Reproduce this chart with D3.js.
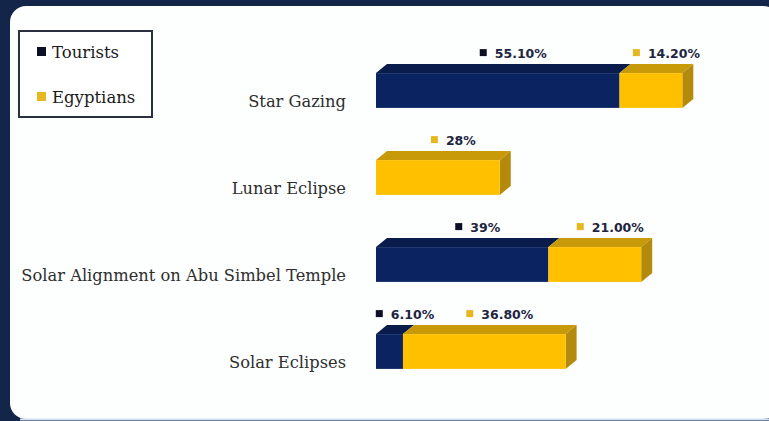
<!DOCTYPE html>
<html>
<head>
<meta charset="utf-8">
<script src="https://cdn.jsdelivr.net/npm/d3@7"></script>
<style>
  body { margin: 0; background: #fff; }
  svg { display: block; }
</style>
</head>
<body>
<svg id="chart" width="769" height="421"></svg>
<script>
// data (percent)
var categories = ["Star Gazing", "Lunar Eclipse", "Solar Alignment on Abu Simbel Temple", "Solar Eclipses"];
var tourists = [55.1, 0, 39, 6.1];
var egyptians = [14.2, 28, 21, 36.8];
var touristLabels = ["55.10%", "", "39%", "6.10%"];
var egyptianLabels = ["14.20%", "28%", "21.00%", "36.80%"];
var seriesNames = ["Tourists", "Egyptians"];

const svg = d3.select("#chart");
const W = 769, H = 421;

// frame: dark navy edge on top/left, white rounded panel
svg.append("rect").attr("width", W).attr("height", H).attr("fill", "#14254a");
svg.append("rect")
    .attr("x", 10).attr("y", 6)
    .attr("width", W).attr("height", H - 8)
    .attr("rx", 16)
    .attr("fill", "#fdfefe");
svg.append("line")
    .attr("x1", 20).attr("x2", W).attr("y1", H - 1.5).attr("y2", H - 1.5)
    .attr("stroke", "#cfe0f0").attr("stroke-width", 2);

const x = d3.scaleLinear().domain([0, 100]).range([376, 376 + 442]);
const y = d3.scaleBand().domain(categories).range([47, 395]).paddingInner(0.6).paddingOuter(0.3);
const dx = 11, dy = 9;

const colors = {
  Tourists: { front: "#0b2461", top: "#0a1c4c", side: "#07163b", key: "#0d0f26" },
  Egyptians: { front: "#ffc000", top: "#c89a0a", side: "#b48a0c", key: "#e6b820" }
};

// stacked segments
var rows = categories.map((c, i) => {
  var segs = [];
  var x0 = 0;
  if (tourists[i] > 0) { segs.push({ name: "Tourists", v0: x0, v1: x0 + tourists[i], label: touristLabels[i] }); x0 += tourists[i]; }
  segs.push({ name: "Egyptians", v0: x0, v1: x0 + egyptians[i], label: egyptianLabels[i] });
  return { cat: c, segs: segs };
});

const g = svg.append("g");

rows.forEach(row => {
  const yt = y(row.cat), h = y.bandwidth();
  row.segs.forEach((s, j) => {
    const xa = x(s.v0), xb = x(s.v1);
    const c = colors[s.name];
    // top face
    g.append("path")
        .attr("d", `M${xa},${yt}L${xa + dx},${yt - dy}L${xb + dx},${yt - dy}L${xb},${yt}Z`)
        .attr("fill", c.top);
    // side face only for last segment
    if (j === row.segs.length - 1) {
      g.append("path")
          .attr("d", `M${xb},${yt}L${xb + dx},${yt - dy}L${xb + dx},${yt + h - dy}L${xb},${yt + h}Z`)
          .attr("fill", c.side);
    }
    // front face
    g.append("rect")
        .attr("x", xa).attr("y", yt)
        .attr("width", xb - xa).attr("height", h)
        .attr("fill", c.front);

    // value label with small key square
    const lab = g.append("g")
        .attr("transform", `translate(${(xa + xb) / 2 + dx + 6},${yt - dy - 6})`);
    const t = lab.append("text")
        .attr("x", 6)
        .attr("font-family", "'DejaVu Sans', sans-serif")
        .attr("font-weight", "bold")
        .attr("font-size", 12.5)
        .attr("fill", "#1e2540")
        .attr("text-anchor", "middle")
        .text(s.label);
    const tw = t.node().getComputedTextLength();
    lab.append("rect")
        .attr("x", 6 - tw / 2 - 15).attr("y", -9)
        .attr("width", 7).attr("height", 7)
        .attr("fill", c.key);
  });

  // category label
  svg.append("text")
      .attr("x", 346)
      .attr("y", yt + h / 2 + 16)
      .attr("text-anchor", "end")
      .attr("font-family", "'DejaVu Serif', serif")
      .attr("font-size", 16.3)
      .attr("fill", "#2e2e2e")
      .text(row.cat);
});

// legend
const legend = svg.append("g");
legend.append("rect")
    .attr("x", 19).attr("y", 31)
    .attr("width", 133).attr("height", 86)
    .attr("fill", "#fff")
    .attr("stroke", "#2a3040").attr("stroke-width", 2);
seriesNames.forEach((n, i) => {
  const ly = 58 + i * 45;
  legend.append("rect")
      .attr("x", 37).attr("y", ly - 11)
      .attr("width", 9).attr("height", 9)
      .attr("fill", colors[n].key);
  legend.append("text")
      .attr("x", 52).attr("y", ly)
      .attr("font-family", "'DejaVu Serif', serif")
      .attr("font-size", 16.5)
      .attr("fill", "#1a1a1a")
      .text(n);
});
</script>
</body>
</html>
